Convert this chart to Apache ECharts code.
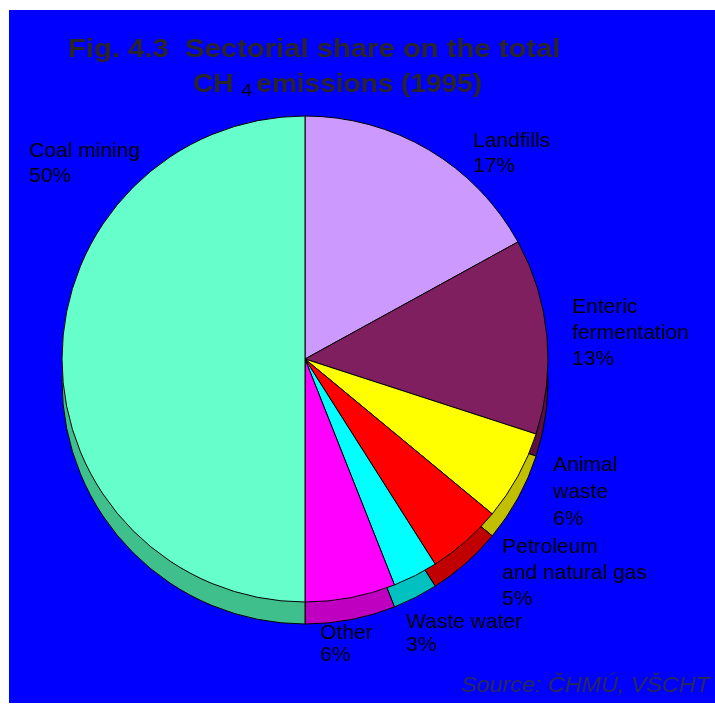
<!DOCTYPE html>
<html>
<head>
<meta charset="utf-8">
<script src="https://cdn.jsdelivr.net/npm/echarts@6/dist/echarts.min.js"></script>
<style>
html,body{margin:0;padding:0;background:#fff;}
#chart{width:715px;height:705px;}
</style>
</head>
<body>
<div id="chart"></div>
<script>
// ---- data ----
const categories = ['Landfills', 'Enteric\nfermentation', 'Animal\nwaste', 'Petroleum\nand natural gas', 'Waste water', 'Other', 'Coal mining'];
const shares = [17, 13, 6, 5, 3, 6, 50];
const titleLine1 = 'Fig. 4.3  Sectorial share on the total';
const titleLine2Main = 'CH';
const titleLine2Sub = '4';
const titleLine2Rest = 'emissions (1995)';
const sourceText = 'Source: ČHMÚ, VŠCHT';

// ---- styles ----
const topColors = ['#CC99FF', '#7F1F5F', '#FFFF00', '#FF0000', '#00FFFF', '#FF00FF', '#66FFCC'];
const sideColors = ['#9A70C0', '#5A1040', '#C0C000', '#C00000', '#00C0C0', '#C000C0', '#3FBF8C'];
const labelPos = [[473, 129], [572, 294], [553, 452], [502, 534], [406, 611], [320, 622], [29, 139]];
const labelLH = [25, 26, 27, 26, 23, 22, 25];
const FONT = '"Liberation Sans", Arial, sans-serif';

const chart = echarts.init(document.getElementById('chart'));

const R = 243;
const CX = 305, CY = 359, DEPTH = 22;

function mkData(colors, withLabel) {
  return categories.map((c, i) => ({
    name: c,
    value: shares[i],
    itemStyle: { color: colors[i] },
    label: withLabel ? { lineHeight: labelLH[i] } : undefined
  }));
}

chart.setOption({
  backgroundColor: '#ffffff',
  animation: false,
  graphic: [{
    type: 'rect', z: 0,
    shape: { x: 9, y: 10, width: 706, height: 693 },
    style: { fill: '#0000FF' }
  }, {
    type: 'text', z: 10,
    x: 68, y: 38, scaleX: 1.17,
    style: {
      text: titleLine1, align: 'left', verticalAlign: 'top',
      font: 'bold 25px ' + FONT, fill: '#2a2626'
    }
  }, {
    type: 'text', z: 10,
    x: 193, y: 70, scaleX: 1.12,
    style: {
      text: '{m|' + titleLine2Main + '}{s|' + titleLine2Sub + '}{m|' + titleLine2Rest + '}',
      align: 'left', verticalAlign: 'top',
      rich: {
        m: { fontFamily: FONT, fontSize: 25, fontWeight: 'bold', fill: '#2a2626', color: '#2a2626', lineHeight: 30, verticalAlign: 'middle' },
        s: { fontFamily: FONT, fontSize: 17, fontWeight: 'normal', fill: '#000000', color: '#000000', lineHeight: 17, verticalAlign: 'bottom', padding: [0, 4, 0, 7] }
      }
    }
  }, {
    type: 'text', z: 10,
    x: 710, y: 675, scaleX: 1.06,
    style: {
      text: sourceText, align: 'right', verticalAlign: 'top',
      font: 'italic 22px ' + FONT, fill: '#2a2a55'
    }
  }],
  series: [{
    type: 'pie',
    silent: true,
    center: [CX, CY + DEPTH],
    radius: R,
    startAngle: 90,
    clockwise: true,
    z: 1,
    label: { show: false },
    labelLine: { show: false },
    itemStyle: { borderColor: '#000', borderWidth: 1 },
    emphasis: { disabled: true },
    data: mkData(sideColors, false)
  }, {
    type: 'pie',
    center: [CX, CY],
    radius: R,
    startAngle: 90,
    clockwise: true,
    z: 2,
    itemStyle: { borderColor: '#000', borderWidth: 1 },
    emphasis: { disabled: true },
    labelLine: { show: false },
    label: {
      show: true,
      position: 'outside',
      color: '#000',
      fontFamily: FONT,
      fontSize: 21,
      lineHeight: 25,
      align: 'left',
      overflow: 'none',
      formatter: p => p.name + '\n' + Math.round(p.percent) + '%'
    },
    labelLayout: p => ({
      x: labelPos[p.dataIndex][0],
      y: labelPos[p.dataIndex][1],
      align: 'left',
      verticalAlign: 'top'
    }),
    data: mkData(topColors, true)
  }]
});
</script>
</body>
</html>
